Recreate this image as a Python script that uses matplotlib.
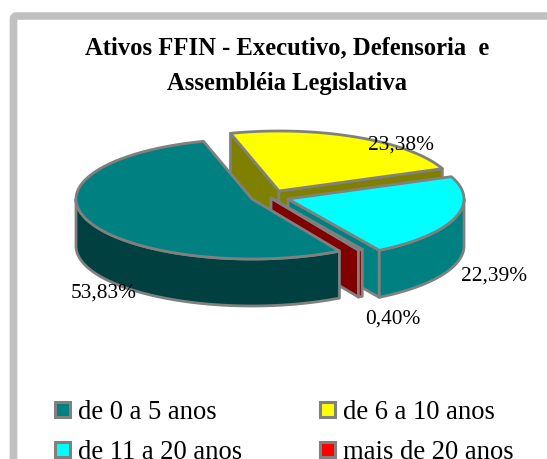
import numpy as np
import matplotlib.pyplot as plt
from matplotlib.patches import Polygon, FancyBboxPatch, Rectangle

plt.rcParams['font.family'] = ['Liberation Serif', 'DejaVu Serif']

categories = ["de 0 a 5 anos", "de 6 a 10 anos", "de 11 a 20 anos", "mais de 20 anos"]
values = [53.83, 23.38, 22.39, 0.40]
value_labels = ["53,83%", "23,38%", "22,39%", "0,40%"]
top_colors = ["#008080", "#FFFF00", "#00FFFF", "#FF0000"]
side_colors = ["#004040", "#808000", "#008080", "#800000"]
title = "Ativos FFIN - Executivo, Defensoria  e\nAssembléia Legislativa"

# layout, in pixels of the picture
centers = [(252, 200), (279, 192), (288, 200), (271, 199)]
label_pos = [(104, 293), (401, 145), (494, 276), (393, 319)]
legend_pos = [(55, 411), (320, 411), (55, 451), (320, 451)]
rx, ry, depth = 176, 60, 47
start_angle = -16
edge = "#808080"
lw = 2


def rim(c, a0, a1, drop=0):
    # angles clockwise from the top of the pie, in degrees
    t = np.radians(np.linspace(a0, a1, max(int(abs(a1 - a0)), 2) + 1))
    return np.column_stack((c[0] + rx * np.sin(t), c[1] - ry * np.cos(t) + drop))


def add(ax, pts, color, z):
    ax.add_patch(Polygon(pts, closed=True, fc=color, ec=edge, lw=lw, joinstyle="round", zorder=z))


fig = plt.figure(figsize=(5.47, 4.6), dpi=100)
ax = fig.add_axes([0, 0, 1, 1])
ax.set_xlim(0, 547)
ax.set_ylim(460, 0)
ax.axis("off")

ax.add_patch(FancyBboxPatch((13.5, 17), 560, 480, boxstyle="round,pad=0,rounding_size=3",
                            fc="white", ec="#C0C0C0", lw=5.5, zorder=0))

# slice angles, going clockwise from the first slice
teal_start = start_angle - values[0] * 3.6
angles = [(teal_start, start_angle),
          (start_angle, start_angle + values[1] * 3.6),
          (start_angle + values[1] * 3.6, start_angle + (values[1] + values[2]) * 3.6),
          (start_angle + (values[1] + values[2]) * 3.6, teal_start + 360)]

# back to front: yellow, cyan, red, teal
for z, i in enumerate([1, 2, 3, 0]):
    c = centers[i]
    a0, a1 = angles[i]
    base = 10 * (z + 1)
    apex = np.array(c, float)
    if i == 0:
        a0 += 360
        a1 += 360
        # outer wall only where the rim faces the viewer
        outer = rim(c, a0, 270)
        add(ax, np.vstack((outer, rim(c, 270, a0, depth))), side_colors[i], base)
        add(ax, np.vstack(([apex], rim(c, a0, a1))), top_colors[i], base + 1)
        continue
    # cut faces
    p0 = rim(c, a0, a0)[0]
    p1 = rim(c, a1, a1)[0]
    for p in (p0, p1):
        if i == 1 or p is p1:
            add(ax, [apex, p, p + [0, depth], apex + [0, depth]], side_colors[i], base)
    # outer wall
    lo = max(a0, 90)
    if a1 > lo:
        add(ax, np.vstack((rim(c, lo, a1), rim(c, a1, lo, depth))), side_colors[i], base + 1)
    add(ax, np.vstack(([apex], rim(c, a0, a1))), top_colors[i], base + 2)

for lab, (x, y) in zip(value_labels, label_pos):
    ax.text(x, y, lab, fontsize=15.4, ha="center", va="center", zorder=100)

ax.text(287, 66, title, fontsize=17.7, fontweight="bold", ha="center", va="center",
        linespacing=1.7, zorder=100)

for name, col, (x, y) in zip(categories, top_colors, legend_pos):
    ax.add_patch(Rectangle((x, y - 8), 15, 15, fc=col, ec=edge, lw=2.2, zorder=100))
    ax.text(x + 23, y + 2, name, fontsize=19.2, ha="left", va="center", zorder=100)

fig.savefig("out.png", dpi=100)
